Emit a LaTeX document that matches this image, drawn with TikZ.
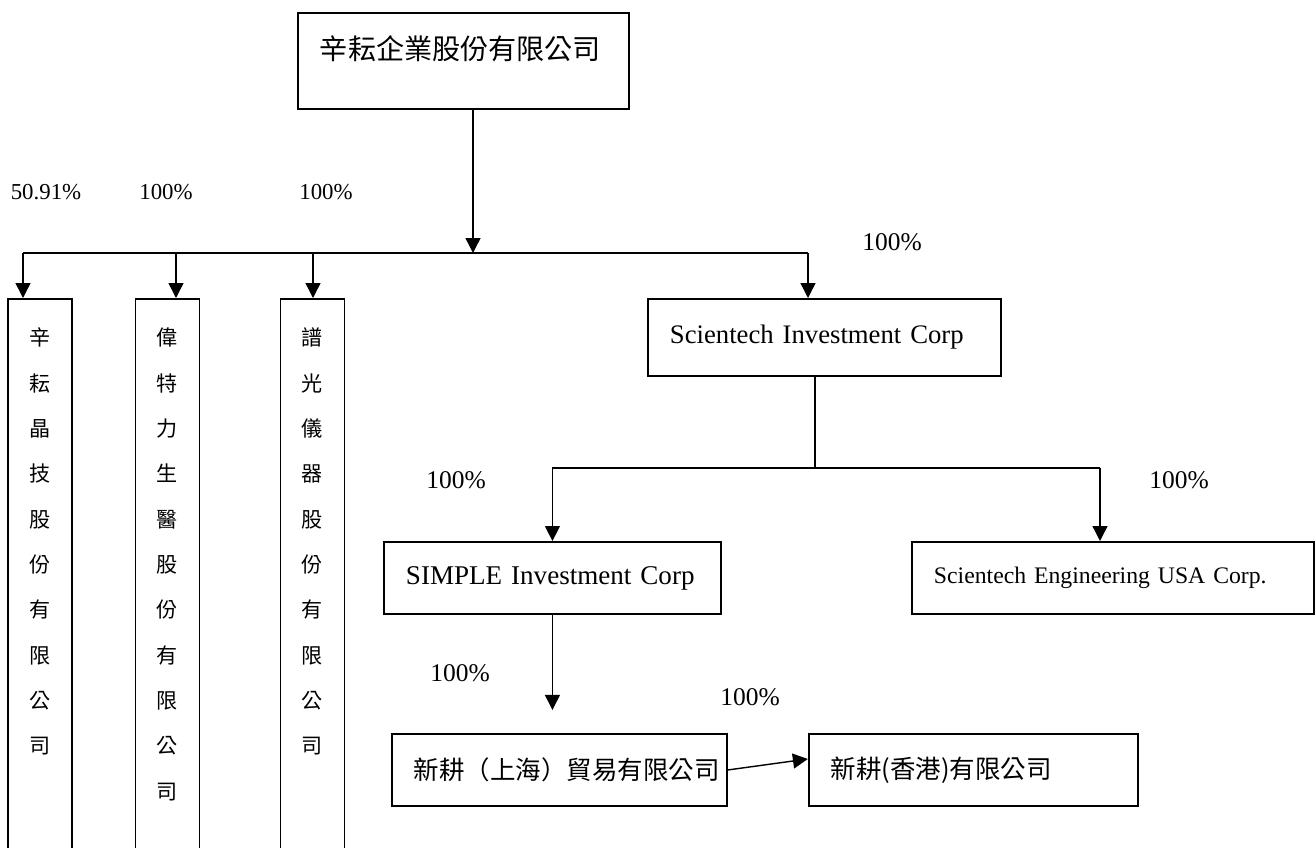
\documentclass[tikz,border=0pt]{standalone}
\usepackage{fontspec}
\setmainfont{Liberation Serif}
\newfontfamily\cjk{Noto Sans CJK TC}
\usetikzlibrary{arrows.meta, positioning}

\begin{document}
\begin{tikzpicture}[
  x=0.02cm, y=-0.02cm,
  box/.style={draw, rectangle, line width=1.1pt, anchor=north west, align=left, inner xsep=0.44cm, inner ysep=0pt},
  vbox/.style={draw, rectangle, line width=1.1pt, anchor=north, text width=1.28cm, align=center, inner xsep=0pt, inner ysep=0.57cm, text height=10.5pt, text depth=12cm, font=\cjk\fontsize{12}{25.8}\selectfont},
  pct/.style={inner sep=0pt, font=\fontsize{13}{15}\selectfont},
  bigpct/.style={inner sep=0pt, font=\fontsize{14.5}{17}\selectfont},
  arrow/.style={-{Triangle[width=8.5pt, length=8.5pt]}, line width=0.8pt},
  line/.style={line width=0.8pt}
]

\useasboundingbox (0,0) rectangle (1315,848);
\clip (0,0) rectangle (1315,848);

% Parent company
\node[box, font=\cjk\fontsize{16}{20}\selectfont, text width=5.74cm, minimum height=1.92cm, text height=12pt, text depth=13.4pt] (top) at (297,12) {辛耘企業股份有限公司};

% Local subsidiaries (names written top to bottom)
\node[vbox] (xj) at (40,298) {辛\\耘\\晶\\技\\股\\份\\有\\限\\公\\司};
\node[vbox] (wt) at (167.5,298) {偉\\特\\力\\生\\醫\\股\\份\\有\\限\\公\\司};
\node[vbox] (pg) at (312.5,298) {譜\\光\\儀\\器\\股\\份\\有\\限\\公\\司};

% Overseas holding and its subsidiaries
\node[box, font=\fontsize{15.2}{18}\selectfont, text width=6.18cm, minimum height=1.54cm] (sic) at (647,298) {Scientech Investment Corp};
\node[box, font=\fontsize{15.4}{18}\selectfont, text width=5.86cm, minimum height=1.44cm] (simple) at (383,541) {SIMPLE Investment Corp};
\node[box, font=\fontsize{13.5}{16}\selectfont, text width=7.16cm, minimum height=1.44cm] (seu) at (911,541) {Scientech Engineering USA Corp.};
\node[box, font=\cjk\fontsize{14.5}{17}\selectfont, text width=5.82cm, minimum height=1.44cm] (sh) at (391,733) {新耕（上海）貿易有限公司};
\node[box, font=\cjk\fontsize{14.5}{17}\selectfont, text width=5.7cm, minimum height=1.44cm, right=1.6cm of sh] (hk) {新耕(香港)有限公司};

% Share percentages
\node[pct] (p1) at (46,192) {50.91\%};
\node[pct] (p2) at (166,192) {100\%};
\node[pct] (p3) at (326,192) {100\%};
\foreach \x/\y/\n in {892/242/q1, 456/480/q2, 1179/480/q3, 460/673/q4, 750/697/q5}
  \node[bigpct] (\n) at (\x,\y) {100\%};

% Bus under the parent company
\coordinate (hub) at (473,253);
\coordinate (d1) at (23,253);
\coordinate (d2) at (176,253);
\coordinate (d3) at (313,253);
\coordinate (d4) at (808,253);
\draw[arrow] (top.south -| hub) -- (hub);
\draw[line] (d1) -- (d4);
\draw[arrow] (d1) -- (d1 |- xj.north);
\draw[arrow] (d2) -- (d2 |- wt.north);
\draw[arrow] (d3) -- (d3 |- pg.north);
\draw[arrow] (d4) -- (d4 |- sic.north);

% Bus under Scientech Investment Corp
\coordinate (split) at (815,468);
\coordinate (splitL) at (simple.north |- split);
\coordinate (splitR) at (1100,468);
\draw[line] (sic.south -| split) -- (split);
\draw[line] (splitL) -- (splitR);
\draw[arrow] (splitL) -- (simple.north);
\draw[arrow] (splitR) -- (splitR |- seu.north);

% Lower arrows
\coordinate (tipS) at ([yshift=-1.9cm]simple.south);
\draw[arrow] (simple.south) -- (tipS);
\draw[arrow] (sh.east) -- ([yshift=0.22cm]hk.west);

\end{tikzpicture}
\end{document}
